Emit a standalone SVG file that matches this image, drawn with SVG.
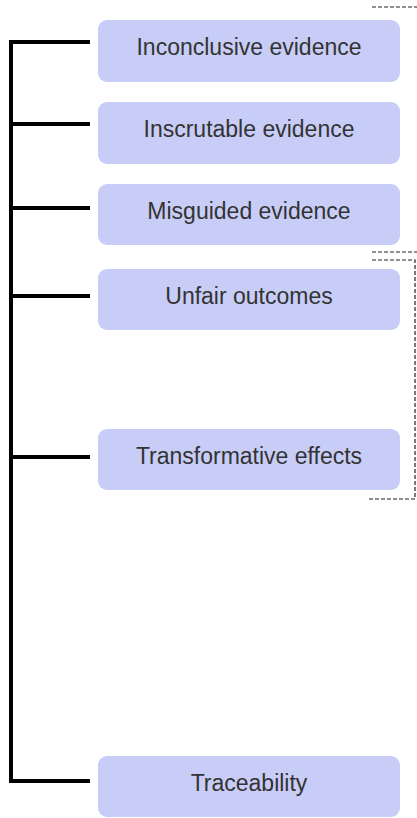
<svg xmlns="http://www.w3.org/2000/svg" width="417" height="818" viewBox="0 0 417 818">
<style>
.box{fill:#c8cdf7;}
.lbl{font-family:"Liberation Sans",Arial,sans-serif;font-size:23px;fill:#333333;text-anchor:middle;}
.tree{fill:none;stroke:#000000;stroke-width:4;}
.dash{fill:none;stroke:#222222;stroke-width:1.2;stroke-dasharray:4 2;}
</style>
<rect width="417" height="818" fill="#ffffff"/>
<g id="connectors">
<path class="tree" d="M90,42 H11 V781 H90"/>
<path class="tree" d="M11,124 H90 M11,208 H90 M11,296 H90 M11,457 H90"/>
<path class="dash" d="M372,7 H417"/>
<path class="dash" d="M372,252 H417"/>
<path class="dash" d="M372,260 H415 V499 H368"/>
</g>
<g id="n1"><rect class="box" x="98" y="20" width="302" height="62" rx="9"/><text class="lbl" x="249" y="55">Inconclusive evidence</text></g>
<g id="n2"><rect class="box" x="98" y="102" width="302" height="62" rx="9"/><text class="lbl" x="249" y="137">Inscrutable evidence</text></g>
<g id="n3"><rect class="box" x="98" y="184" width="302" height="61" rx="9"/><text class="lbl" x="249" y="219">Misguided evidence</text></g>
<g id="n4"><rect class="box" x="98" y="269" width="302" height="61" rx="9"/><text class="lbl" x="249" y="304">Unfair outcomes</text></g>
<g id="n5"><rect class="box" x="98" y="429" width="302" height="61" rx="9"/><text class="lbl" x="249" y="464">Transformative effects</text></g>
<g id="n6"><rect class="box" x="98" y="756" width="302" height="61" rx="9"/><text class="lbl" x="249" y="791">Traceability</text></g>
</svg>
